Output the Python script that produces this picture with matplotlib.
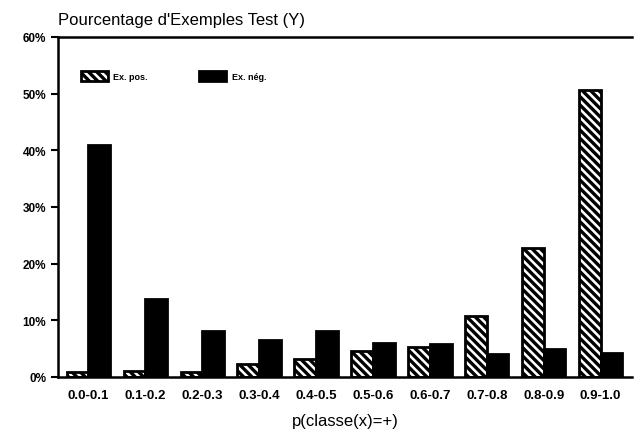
import numpy as np
import matplotlib.pyplot as plt

plt.rcParams['font.family'] = ['Liberation Sans', 'DejaVu Sans']
plt.rcParams['hatch.linewidth'] = 2.4

categories = ["0.0-0.1", "0.1-0.2", "0.2-0.3", "0.3-0.4", "0.4-0.5",
              "0.5-0.6", "0.6-0.7", "0.7-0.8", "0.8-0.9", "0.9-1.0"]
pos_values = [0.8, 1.0, 0.8, 2.3, 3.2, 4.5, 5.3, 10.7, 22.7, 50.7]
neg_values = [40.9, 13.8, 8.1, 6.6, 8.2, 6.0, 5.8, 4.0, 5.0, 4.3]
y_ticks = [0, 10, 20, 30, 40, 50, 60]

fig = plt.figure(figsize=(6.39, 4.31), dpi=100)
ax = fig.add_axes([0.091, 0.123, 0.898, 0.789])

x = np.arange(len(categories))
w = 0.38
ax.bar(x - w / 2, pos_values, width=w, facecolor='white', edgecolor='black',
       hatch='\\\\\\\\', linewidth=2, label='Ex. pos.')
ax.bar(x + w / 2, neg_values, width=w, facecolor='black', edgecolor='black',
       linewidth=2, label='Ex. nég.')

ax.set_xlim(-0.53, 9.55)
ax.set_ylim(0, 60)
ax.set_yticks(y_ticks)
ax.set_yticklabels([f"{v}%" for v in y_ticks], fontsize=8.5, fontweight='bold')
ax.set_xticks(x)
ax.set_xticklabels(categories, fontsize=9.5, fontweight='bold')
ax.tick_params(axis='x', length=0, pad=9)
ax.tick_params(axis='y', direction='out', length=5, width=1.5)

for s in ['left', 'bottom', 'top']:
    ax.spines[s].set_linewidth(1.8)
ax.spines['right'].set_visible(False)

ax.set_xlabel("p(classe(x)=+)", fontsize=12, labelpad=8)
fig.text(0.091, 0.935, "Pourcentage d'Exemples Test (Y)", fontsize=12,
         ha='left', va='bottom')

leg = ax.legend(loc='upper left', bbox_to_anchor=(0.025, 0.925), ncol=2,
                frameon=False, prop={'size': 6.5, 'weight': 'bold'},
                handlelength=3.0, handleheight=1.4, handletextpad=0.6,
                columnspacing=5.7)

fig.savefig("out.png", dpi=100)
